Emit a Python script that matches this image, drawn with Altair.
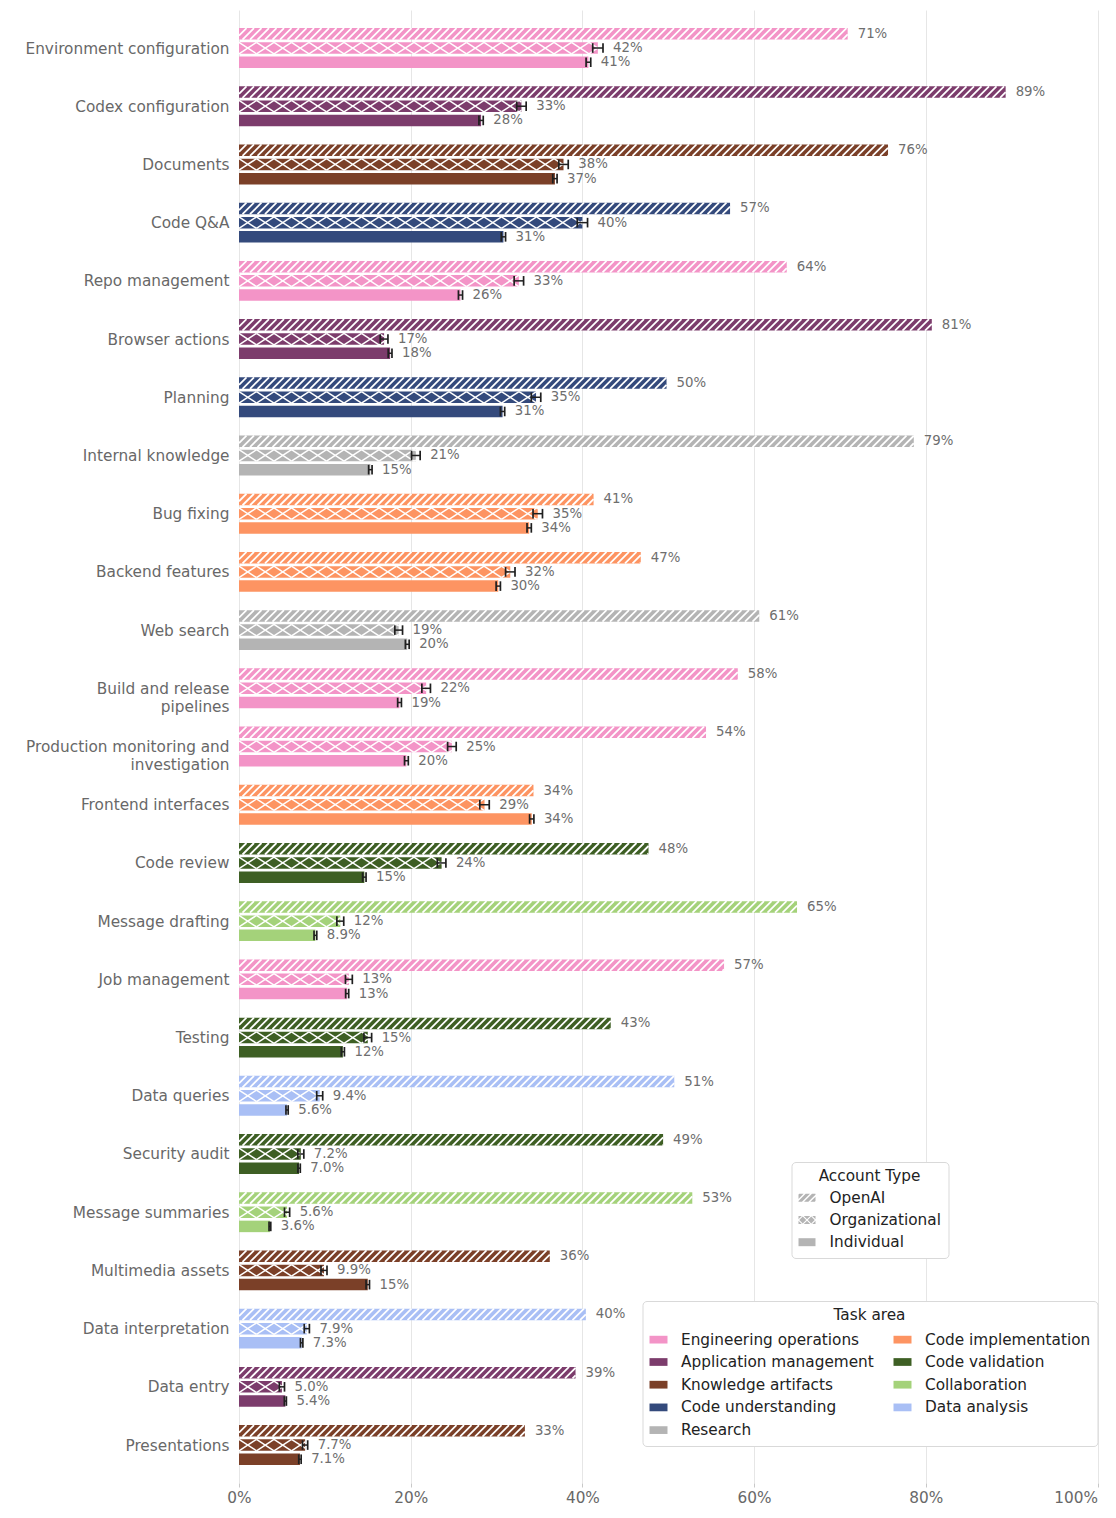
import json
import altair as alt
import pandas as pd

# ---------------- data ----------------
categories = [
    "Environment configuration", "Codex configuration", "Documents", "Code Q&A",
    "Repo management", "Browser actions", "Planning", "Internal knowledge",
    "Bug fixing", "Backend features", "Web search", "Build and release\npipelines",
    "Production monitoring and\ninvestigation", "Frontend interfaces", "Code review",
    "Message drafting", "Job management", "Testing", "Data queries", "Security audit",
    "Message summaries", "Multimedia assets", "Data interpretation", "Data entry",
    "Presentations",
]
task_areas = [
    "Engineering operations", "Application management", "Knowledge artifacts", "Code understanding",
    "Engineering operations", "Application management", "Code understanding", "Research",
    "Code implementation", "Code implementation", "Research", "Engineering operations",
    "Engineering operations", "Code implementation", "Code validation",
    "Collaboration", "Engineering operations", "Code validation", "Data analysis", "Code validation",
    "Collaboration", "Knowledge artifacts", "Data analysis", "Application management",
    "Knowledge artifacts",
]
openai_share = [70.9, 89.3, 75.6, 57.2, 63.8, 80.7, 49.8, 78.6, 41.3, 46.8, 60.6, 58.1, 54.4,
                34.3, 47.7, 65.0, 56.5, 43.3, 50.7, 49.4, 52.8, 36.2, 40.4, 39.2, 33.3]
org_share = [41.8, 32.9, 37.8, 40.0, 32.6, 16.9, 34.6, 20.6, 34.8, 31.6, 18.6, 21.8, 24.8,
             28.6, 23.6, 11.8, 12.8, 15.0, 9.4, 7.2, 5.6, 9.9, 7.9, 5.0, 7.7]
ind_share = [40.7, 28.2, 36.8, 30.8, 25.8, 17.6, 30.7, 15.3, 33.8, 30.2, 19.6, 18.7, 19.5,
             34.1, 14.6, 8.9, 12.6, 12.1, 5.6, 7.0, 3.6, 15.0, 7.3, 5.4, 7.1]
org_err = [0.6, 0.55, 0.55, 0.6, 0.55, 0.45, 0.55, 0.5, 0.55, 0.55, 0.45, 0.5, 0.5,
           0.55, 0.5, 0.4, 0.4, 0.45, 0.35, 0.35, 0.3, 0.35, 0.3, 0.3, 0.3]
ind_err = [0.27, 0.25, 0.25, 0.25, 0.24, 0.22, 0.25, 0.2, 0.25, 0.25, 0.22, 0.22, 0.22,
           0.25, 0.2, 0.16, 0.18, 0.18, 0.13, 0.14, 0.1, 0.2, 0.14, 0.12, 0.14]

area_order = ["Engineering operations", "Application management", "Knowledge artifacts",
              "Code understanding", "Research", "Code implementation", "Code validation",
              "Collaboration", "Data analysis"]
area_colors = ["#f394c7", "#7c3c6c", "#7b4028", "#344a7c", "#b4b4b4",
               "#fd9462", "#3e5f24", "#a4d27a", "#a9bff5"]
account_types = ["OpenAI", "Organizational", "Individual"]

rows = []
for i, c in enumerate(categories):
    for acct, vals, errs in (("OpenAI", openai_share, None),
                             ("Organizational", org_share, org_err),
                             ("Individual", ind_share, ind_err)):
        rows.append(dict(idx=i, cat=c.replace("\n", " "), area=task_areas[i], acct=acct,
                         val=vals[i], err=0.0 if errs is None else errs[i]))
df = pd.DataFrame(rows)

# ---------------- layout constants ----------------
PLOT_W = 858.5
PLOT_H = 1473
Y_LO, Y_HI = -0.653, 24.652
UY = PLOT_H / (Y_HI - Y_LO)      # px per category unit
UX = PLOT_W / 100.0              # px per percent
BAR = 11.5 / UY
HB = BAR / 2
SEP = 14.2 / UY
CAP = 4.8 / UY
S1 = 11.5 / UX                   # '///' run across a bar (45 deg)
P1 = 7.5 / UX                    # '///' spacing
S2 = 17.5 / UX                   # 'xx' run across a bar
P2 = 17.5 / UX                   # 'xx' spacing


# ---------------- legend swatch paths ----------------
def clip(poly, a, b, c):
    out = []
    n = len(poly)
    for k in range(n):
        p, q = poly[k], poly[(k + 1) % n]
        fp = a * p[0] + b * p[1] + c
        fq = a * q[0] + b * q[1] + c
        if fp >= 0:
            out.append(p)
        if (fp >= 0) != (fq >= 0):
            t = fp / (fp - fq)
            out.append((p[0] + t * (q[0] - p[0]), p[1] + t * (q[1] - p[1])))
    return out


RECT = [(-1, -0.47), (1, -0.47), (1, 0.47), (-1, 0.47)]


def to_path(polys):
    s = ""
    for pg in polys:
        if len(pg) < 3:
            continue
        s += "M" + "L".join(f"{x:.3f},{y:.3f}" for x, y in pg) + "Z"
    return s


def stripes_path(p, g):
    polys = []
    for k in range(-6, 7):
        lo, hi = k * p + g, (k + 1) * p - g
        pg = clip(RECT, 1, 1, -lo)
        pg = clip(pg, -1, -1, hi) if pg else pg
        if pg:
            polys.append(pg)
    return to_path(polys)


def cross_path(p, g):
    polys = []
    for k1 in range(-4, 5):
        for k2 in range(-4, 5):
            pg = RECT
            pg = clip(pg, 1, 1, -(k1 * p + g))
            if pg: pg = clip(pg, -1, -1, (k1 + 1) * p - g)
            if pg: pg = clip(pg, 1, -1, -(k2 * p + g))
            if pg: pg = clip(pg, -1, 1, (k2 + 1) * p - g)
            if pg:
                polys.append(pg)
    return to_path(polys)


shape_paths = [stripes_path(0.75, 0.12), cross_path(1.0, 0.09), to_path([RECT])]

# ---------------- chart ----------------
xs = alt.Scale(domain=[0, 100], nice=False, zero=True)
ys = alt.Scale(domain=[Y_LO, Y_HI], reverse=True, nice=False, zero=False)

label_lines = json.dumps([c.split("\n") for c in categories])

TEXT_GRAY = "#686868"
x_axis = alt.Axis(values=[0, 20, 40, 60, 80, 100], labelExpr="datum.value + '%'",
                  grid=True, domain=False, ticks=True, tickSize=4, tickColor="#c8c8c8",
                  gridColor="#e6e6e6", labelFontSize=15.3, labelColor=TEXT_GRAY,
                  labelPadding=3, labelFlush=False,
                  labelAlign={"condition": {"test": "datum.value == 100", "value": "right"},
                              "value": "center"},
                  title=None)
y_axis = alt.Axis(values=list(range(len(categories))),
                  labelExpr=f"{label_lines}[datum.value]",
                  grid=False, domain=False, ticks=False, labelFontSize=15.3,
                  labelColor=TEXT_GRAY, labelPadding=10, labelLimit=400,
                  labelLineHeight=18, labelAlign="right", labelBaseline="middle",
                  title=None)


def X(f):
    return alt.X(f, scale=xs, axis=x_axis, title=None)


def Y(f):
    return alt.Y(f, scale=ys, axis=y_axis, title=None)


base = alt.Chart(df).transform_calculate(
    off=f"datum.acct == 'OpenAI' ? {-SEP} : (datum.acct == 'Organizational' ? 0 : {SEP})",
).transform_calculate(
    yc="datum.idx + datum.off",
).transform_calculate(
    y0=f"datum.yc - {HB}",
    y1=f"datum.yc + {HB}",
    x0="0",
    lo="datum.val - datum.err",
    hi="datum.val + datum.err",
    lab="format(datum.val, '.2r') + '%'",
)

bars = base.mark_rect().encode(
    x=X("x0:Q"),
    x2="val:Q",
    y=Y("y0:Q"),
    y2="y1:Q",
    color=alt.Color("area:N", scale=alt.Scale(domain=area_order, range=area_colors),
                    legend=alt.Legend(title="Task area", orient="none", legendX=403.5,
                                      legendY=1291, columns=2, direction="vertical",
                                      symbolType="M-1,-0.43H1V0.43H-1Z", symbolSize=324,
                                      symbolStrokeWidth=0, labelOffset=13.5,
                                      columnPadding=19, rowPadding=4.7,
                                      padding=7, titlePadding=7)),
)

hatch = base.transform_filter("datum.acct != 'Individual'").transform_calculate(
    per=f"datum.acct == 'OpenAI' ? {P1} : {P2}",
    run=f"datum.acct == 'OpenAI' ? {S1} : {S2}",
    dirs="datum.acct == 'OpenAI' ? [1] : [1, -1]",
).transform_calculate(
    ks="sequence(-datum.run, datum.val, datum.per)",
).transform_flatten(["dirs"]).transform_flatten(["ks"]).transform_calculate(
    xa="max(datum.ks, 0)",
    xb="min(datum.ks + datum.run, datum.val)",
).transform_filter("datum.xb > datum.xa").transform_calculate(
    ya=f"datum.yc + datum.dirs * ({HB} - (datum.xa - datum.ks) / datum.run * {2 * HB})",
    yb=f"datum.yc + datum.dirs * ({HB} - (datum.xb - datum.ks) / datum.run * {2 * HB})",
    sw="datum.acct == 'OpenAI' ? 1.8 : 1.5",
).mark_rule(color="white").encode(
    x=X("xa:Q"),
    x2="xb:Q",
    y=Y("ya:Q"),
    y2="yb:Q",
    strokeWidth=alt.StrokeWidth("sw:Q", scale=None, legend=None),
)

eb = base.transform_filter("datum.acct != 'OpenAI'").transform_calculate(
    c0=f"datum.yc - {CAP}", c1=f"datum.yc + {CAP}")
ERR_COLOR = "#1f1f1f"
hline = eb.mark_rule(color=ERR_COLOR, strokeWidth=1.5).encode(
    x=X("lo:Q"), x2="hi:Q", y=Y("yc:Q"))
cap_lo = eb.mark_rule(color=ERR_COLOR, strokeWidth=1.7).encode(
    x=X("lo:Q"), y=Y("c0:Q"), y2="c1:Q")
cap_hi = eb.mark_rule(color=ERR_COLOR, strokeWidth=1.7).encode(
    x=X("hi:Q"), y=Y("c0:Q"), y2="c1:Q")

labels = base.mark_text(align="left", baseline="middle", dx=10, fontSize=13.3,
                        color="#6e6e6e").encode(
    x=X("hi:Q"), y=Y("yc:Q"), text="lab:N")

shape_legend = base.transform_filter("false").mark_point(
    filled=True, color="#b4b4b4", opacity=1).encode(
    x=X("val:Q"), y=Y("yc:Q"),
    shape=alt.Shape("acct:N", scale=alt.Scale(domain=account_types, range=shape_paths),
                    legend=alt.Legend(title="Account Type", orient="none", legendX=552.5,
                                      legendY=1152, direction="vertical", symbolSize=289,
                                      symbolStrokeWidth=0, symbolFillColor="#b4b4b4",
                                      labelOffset=14, rowPadding=5.2, padding=7,
                                      titlePadding=5)),
)

chart = alt.layer(bars, hatch, hline, cap_lo, cap_hi, labels, shape_legend).properties(
    width=PLOT_W, height=PLOT_H,
    autosize=alt.AutoSizeParams(type="none"),
    padding={"left": 231, "top": 2, "right": 10, "bottom": 25},
).configure(font="DejaVu Sans").configure_view(stroke=None).configure_legend(
    titleFontSize=15.3, titleFontWeight="normal", titleColor="#222222", titleAnchor="middle",
    labelFontSize=15.3, labelColor="#222222", strokeColor="#d9d9d9", fillColor="white",
    cornerRadius=4, labelLimit=400,
)

chart.save("out.html", embed_options={"renderer": "svg", "actions": False})
